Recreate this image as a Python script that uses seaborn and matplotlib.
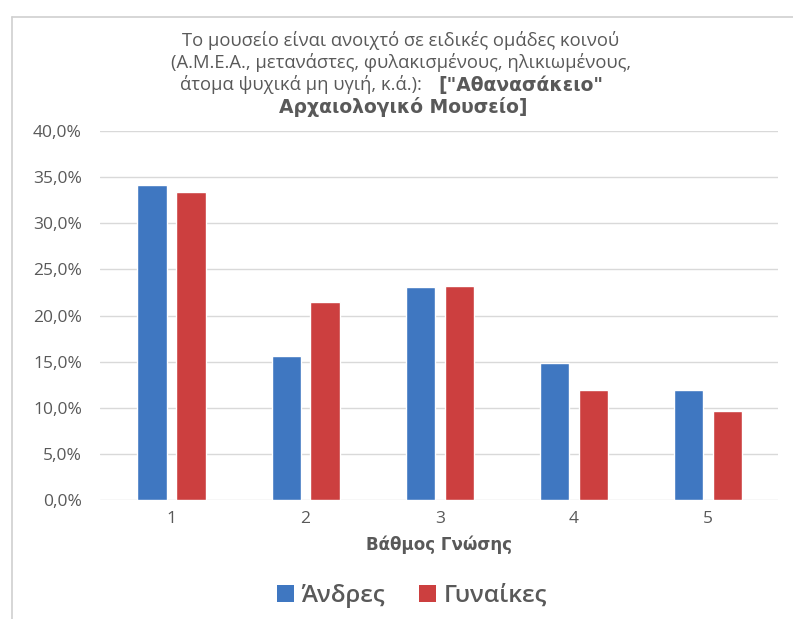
import matplotlib
matplotlib.use("Agg")
import matplotlib.pyplot as plt
import matplotlib.ticker as mticker
from matplotlib.lines import Line2D
from matplotlib.patches import Patch
import seaborn as sns
import pandas as pd

categories = ["1", "2", "3", "4", "5"]
men = [34.2, 15.6, 23.1, 14.8, 11.9]
women = [33.4, 21.5, 23.2, 11.9, 9.6]
series_names = ["Άνδρες", "Γυναίκες"]
yticks = [0, 5, 10, 15, 20, 25, 30, 35, 40]

df = pd.DataFrame({
    "cat": categories * 2,
    "val": men + women,
    "sex": [series_names[0]] * 5 + [series_names[1]] * 5,
})

sns.set_theme(style="white")
plt.rcParams["font.family"] = ["Open Sans", "DejaVu Sans"]
bold_family = ["DejaVu Sans"]

W, H = 793, 619
fig = plt.figure(figsize=(W / 100, H / 100), dpi=100)
ax = fig.add_axes([100 / W, (H - 500) / H, (778 - 100) / W, (500 - 131) / H])

colors = {"Άνδρες": "#3f77c1", "Γυναίκες": "#cc3f3f"}
sns.barplot(data=df, x="cat", y="val", hue="sex", palette=colors,
            width=0.58, gap=0.25, ax=ax, legend=False, saturation=1)

ax.set_ylim(0, 40)
ax.set_xlim(-0.533, 4.522)
ax.set_yticks(yticks)
ax.yaxis.set_major_formatter(mticker.FuncFormatter(lambda v, p: f"{v:.1f}".replace(".", ",") + "%"))
ax.grid(axis="y", color="#d9d9d9", linewidth=1)
ax.set_axisbelow(True)
for s in ax.spines.values():
    s.set_visible(False)
ax.tick_params(axis="both", length=0, colors="#595959", labelsize=12.5)
ax.tick_params(axis="y", pad=13)
ax.tick_params(axis="x", pad=8)
ax.set_ylabel("")
ax.set_xlabel("Βάθμος Γνώσης", fontsize=12, fontweight="bold", color="#595959",
              labelpad=6, family=bold_family)

# chart border
fig.add_artist(Line2D([12 / W, 12 / W], [0, 1 - 17 / H], color="#d0d0d0", lw=1.2))
fig.add_artist(Line2D([12 / W, 1], [1 - 17 / H, 1 - 17 / H], color="#d0d0d0", lw=1.2))

tc = "#595959"
fs = 13.2
bfs = 13.5
fig.text(401 / W, 1 - 40 / H, "Το μουσείο είναι ανοιχτό σε ειδικές ομάδες κοινού",
         ha="center", va="center", fontsize=fs, color=tc)
fig.text(401 / W, 1 - 63 / H, "(Α.Μ.Ε.Α., μετανάστες, φυλακισμένους, ηλικιωμένους,",
         ha="center", va="center", fontsize=fs, color=tc)
fig.text(422 / W, 1 - 85 / H, "άτομα ψυχικά μη υγιή, κ.ά.):",
         ha="right", va="center", fontsize=fs, color=tc)
fig.text(438 / W, 1 - 85 / H, "[\"Αθανασάκειο\"",
         ha="left", va="center", fontsize=bfs, color=tc, fontweight="bold", family=bold_family)
fig.text(403 / W, 1 - 107 / H, "Αρχαιολογικό Μουσείο]",
         ha="center", va="center", fontsize=bfs, color=tc, fontweight="bold", family=bold_family)

handles = [Patch(facecolor=colors[n], edgecolor="none", label=n) for n in series_names]
leg = fig.legend(handles=handles, loc="center", bbox_to_anchor=(412 / W, 1 - 596 / H),
                 ncol=2, frameon=False, handlelength=0.7, handleheight=0.7,
                 handletextpad=0.3, columnspacing=1.4,
                 prop={"size": 17.5, "weight": "semibold"})
for t in leg.get_texts():
    t.set_color(tc)

fig.savefig("out.png", dpi=100)
